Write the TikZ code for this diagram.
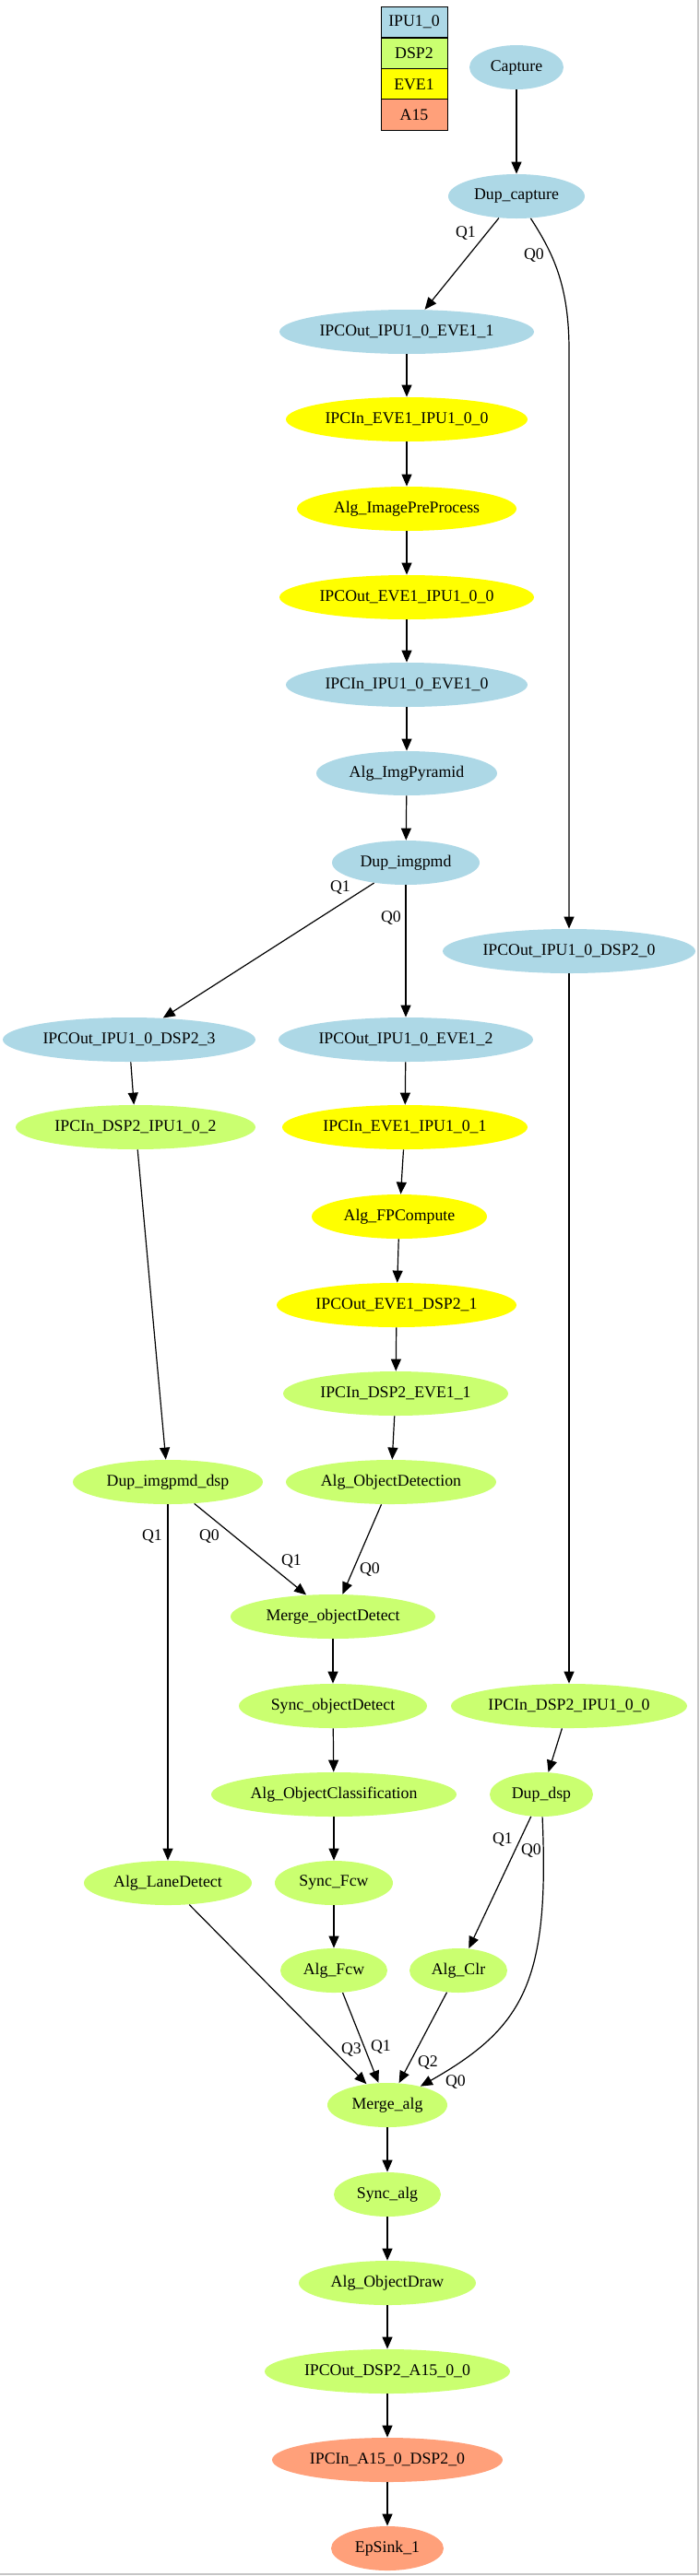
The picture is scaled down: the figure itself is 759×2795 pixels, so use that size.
\documentclass[tikz,border=0pt]{standalone}
\usepackage{fontspec}
\setmainfont{Liberation Serif}
\usepackage{tikz}
\usetikzlibrary{shapes.geometric, arrows.meta}

\definecolor{ipucol}{HTML}{ADD8E6}
\definecolor{dspcol}{HTML}{CAFF70}
\definecolor{evecol}{HTML}{FFFF00}
\definecolor{afqcol}{HTML}{FFA07A}

\begin{document}
\begin{tikzpicture}[x=0.5pt, y=-0.5pt,
        every node/.style={font=\fontsize{8.9}{10}\selectfont},
        blob/.style={ellipse, inner sep=0pt, minimum height=24pt},
        ipu/.style={blob, fill=ipucol},
        dsp/.style={blob, fill=dspcol},
        eve/.style={blob, fill=evecol},
        afq/.style={blob, fill=afqcol},
        leg/.style={draw, line width=0.5pt, minimum width=36pt, minimum height=16.75pt, inner sep=0pt},
        arr/.style={-{Triangle[length=6.5pt, width=5.5pt]}, line width=0.6pt},
        qlab/.style={inner sep=0pt}]
    \useasboundingbox (0,0) rectangle (759,2795);
    \draw[gray!45, line width=0.6pt] (757,0) -- (757,2793) -- (0,2793);

    % Legenda dei processori
    \node[leg, fill=ipucol] (legipu) at (449,24) {IPU1\_0};
    \node[leg, fill=dspcol] (legdsp) at (449,58) {DSP2};
    \node[leg, fill=evecol] (legeve) at (449,91.5) {EVE1};
    \node[leg, fill=afqcol] (legafq) at (449,124.5) {A15};

    % Ramo superiore (IPU1_0 / EVE1)
    \node[ipu, minimum width=51pt] (capture) at (560,73) {Capture};
    \node[ipu, minimum width=74pt] (dupcap) at (560,213) {Dup\_capture};
    \node[ipu, minimum width=138pt] (outeve1) at (441,360) {IPCOut\_IPU1\_0\_EVE1\_1};
    \node[eve, minimum width=131pt] (ineve0) at (441,455) {IPCIn\_EVE1\_IPU1\_0\_0};
    \node[eve, minimum width=119pt] (preproc) at (441,552) {Alg\_ImagePreProcess};
    \node[eve, minimum width=138pt] (outipu0) at (441,648) {IPCOut\_EVE1\_IPU1\_0\_0};
    \node[ipu, minimum width=131pt] (inipu0) at (441,743) {IPCIn\_IPU1\_0\_EVE1\_0};
    \node[ipu, minimum width=98pt] (pyramid) at (441,839) {Alg\_ImgPyramid};
    \node[ipu, minimum width=80pt] (dupimg) at (440,936) {Dup\_imgpmd};
    \node[ipu, minimum width=137pt] (outdsp0) at (617,1032) {IPCOut\_IPU1\_0\_DSP2\_0};
    \node[ipu, minimum width=137pt] (outdsp3) at (140,1128) {IPCOut\_IPU1\_0\_DSP2\_3};
    \node[ipu, minimum width=138pt] (outeve2) at (440,1128) {IPCOut\_IPU1\_0\_EVE1\_2};
    \node[dsp, minimum width=130pt] (indsp2) at (147,1223) {IPCIn\_DSP2\_IPU1\_0\_2};
    \node[eve, minimum width=133pt] (ineve1) at (439,1223) {IPCIn\_EVE1\_IPU1\_0\_1};
    \node[eve, minimum width=95pt] (fpcomp) at (433,1320) {Alg\_FPCompute};
    \node[eve, minimum width=130pt] (outdsp1) at (430,1416) {IPCOut\_EVE1\_DSP2\_1};

    % Ramo DSP2
    \node[dsp, minimum width=122pt] (indspe) at (429,1512) {IPCIn\_DSP2\_EVE1\_1};
    \node[dsp, minimum width=103pt] (dupimgdsp) at (182,1608) {Dup\_imgpmd\_dsp};
    \node[dsp, minimum width=114pt] (objdet) at (424,1608) {Alg\_ObjectDetection};
    \node[dsp, minimum width=111pt] (mergeod) at (361,1754) {Merge\_objectDetect};
    \node[dsp, minimum width=102pt] (syncod) at (361,1851) {Sync\_objectDetect};
    \node[dsp, minimum width=128pt] (indsp0) at (617,1851) {IPCIn\_DSP2\_IPU1\_0\_0};
    \node[dsp, minimum width=133pt] (objcls) at (362,1947) {Alg\_ObjectClassification};
    \node[dsp, minimum width=56pt] (dupdsp) at (587,1947) {Dup\_dsp};
    \node[dsp, minimum width=91pt] (lane) at (182,2043) {Alg\_LaneDetect};
    \node[dsp, minimum width=64pt] (syncfcw) at (362,2043) {Sync\_Fcw};
    \node[dsp, minimum width=58pt] (fcw) at (362,2138) {Alg\_Fcw};
    \node[dsp, minimum width=53pt] (clr) at (497,2138) {Alg\_Clr};
    \node[dsp, minimum width=65pt] (mergealg) at (420,2284) {Merge\_alg};
    \node[dsp, minimum width=58pt] (syncalg) at (420,2381) {Sync\_alg};
    \node[dsp, minimum width=96pt] (objdraw) at (420,2477) {Alg\_ObjectDraw};
    \node[dsp, minimum width=133pt] (outa15) at (420,2573) {IPCOut\_DSP2\_A15\_0\_0};

    % Uscita su A15
    \node[afq, minimum width=125pt] (ina15) at (420,2669) {IPCIn\_A15\_0\_DSP2\_0};
    \node[afq, minimum width=61pt] (sink) at (420,2765) {EpSink\_1};

    % Collegamenti diritti
    \foreach \a/\b in {capture/dupcap, dupcap/outeve1, outeve1/ineve0, ineve0/preproc,
        preproc/outipu0, outipu0/inipu0, inipu0/pyramid, pyramid/dupimg,
        dupimg/outdsp3, dupimg/outeve2, outdsp3/indsp2, indsp2/dupimgdsp,
        outeve2/ineve1, ineve1/fpcomp, fpcomp/outdsp1, outdsp1/indspe, indspe/objdet,
        dupimgdsp/lane, dupimgdsp/mergeod, objdet/mergeod, mergeod/syncod,
        syncod/objcls, objcls/syncfcw, syncfcw/fcw, fcw/mergealg, clr/mergealg,
        lane/mergealg, outdsp0/indsp0, indsp0/dupdsp, dupdsp/clr,
        mergealg/syncalg, syncalg/objdraw, objdraw/outa15, outa15/ina15, ina15/sink}
        \draw[arr] (\a) -- (\b);

    % Collegamenti curvi
    \coordinate (turn) at (617,380);
    \draw[arr] (dupcap) .. controls (600,275) and (617,310) .. (turn) -- (outdsp0);
    \draw[arr] (dupdsp) .. controls (596,2150) and (568,2200) .. (mergealg);

    % Etichette delle code
    \node[qlab] (q1a) at (505,253) {Q1};
    \node[qlab] (q0a) at (579,277) {Q0};
    \node[qlab] (q1b) at (369,963) {Q1};
    \node[qlab] (q0b) at (424,996) {Q0};
    \node[qlab] (q1c) at (165,1667) {Q1};
    \node[qlab] (q0c) at (227,1667) {Q0};
    \node[qlab] (q1d) at (316,1694) {Q1};
    \node[qlab] (q0d) at (401,1703) {Q0};
    \node[qlab] (q1e) at (545,1996) {Q1};
    \node[qlab] (q0e) at (576,2008) {Q0};
    \node[qlab] (q3f) at (381,2224) {Q3};
    \node[qlab] (q1f) at (413,2221) {Q1};
    \node[qlab] (q2f) at (464,2238) {Q2};
    \node[qlab] (q0f) at (494,2259) {Q0};
\end{tikzpicture}
\end{document}
